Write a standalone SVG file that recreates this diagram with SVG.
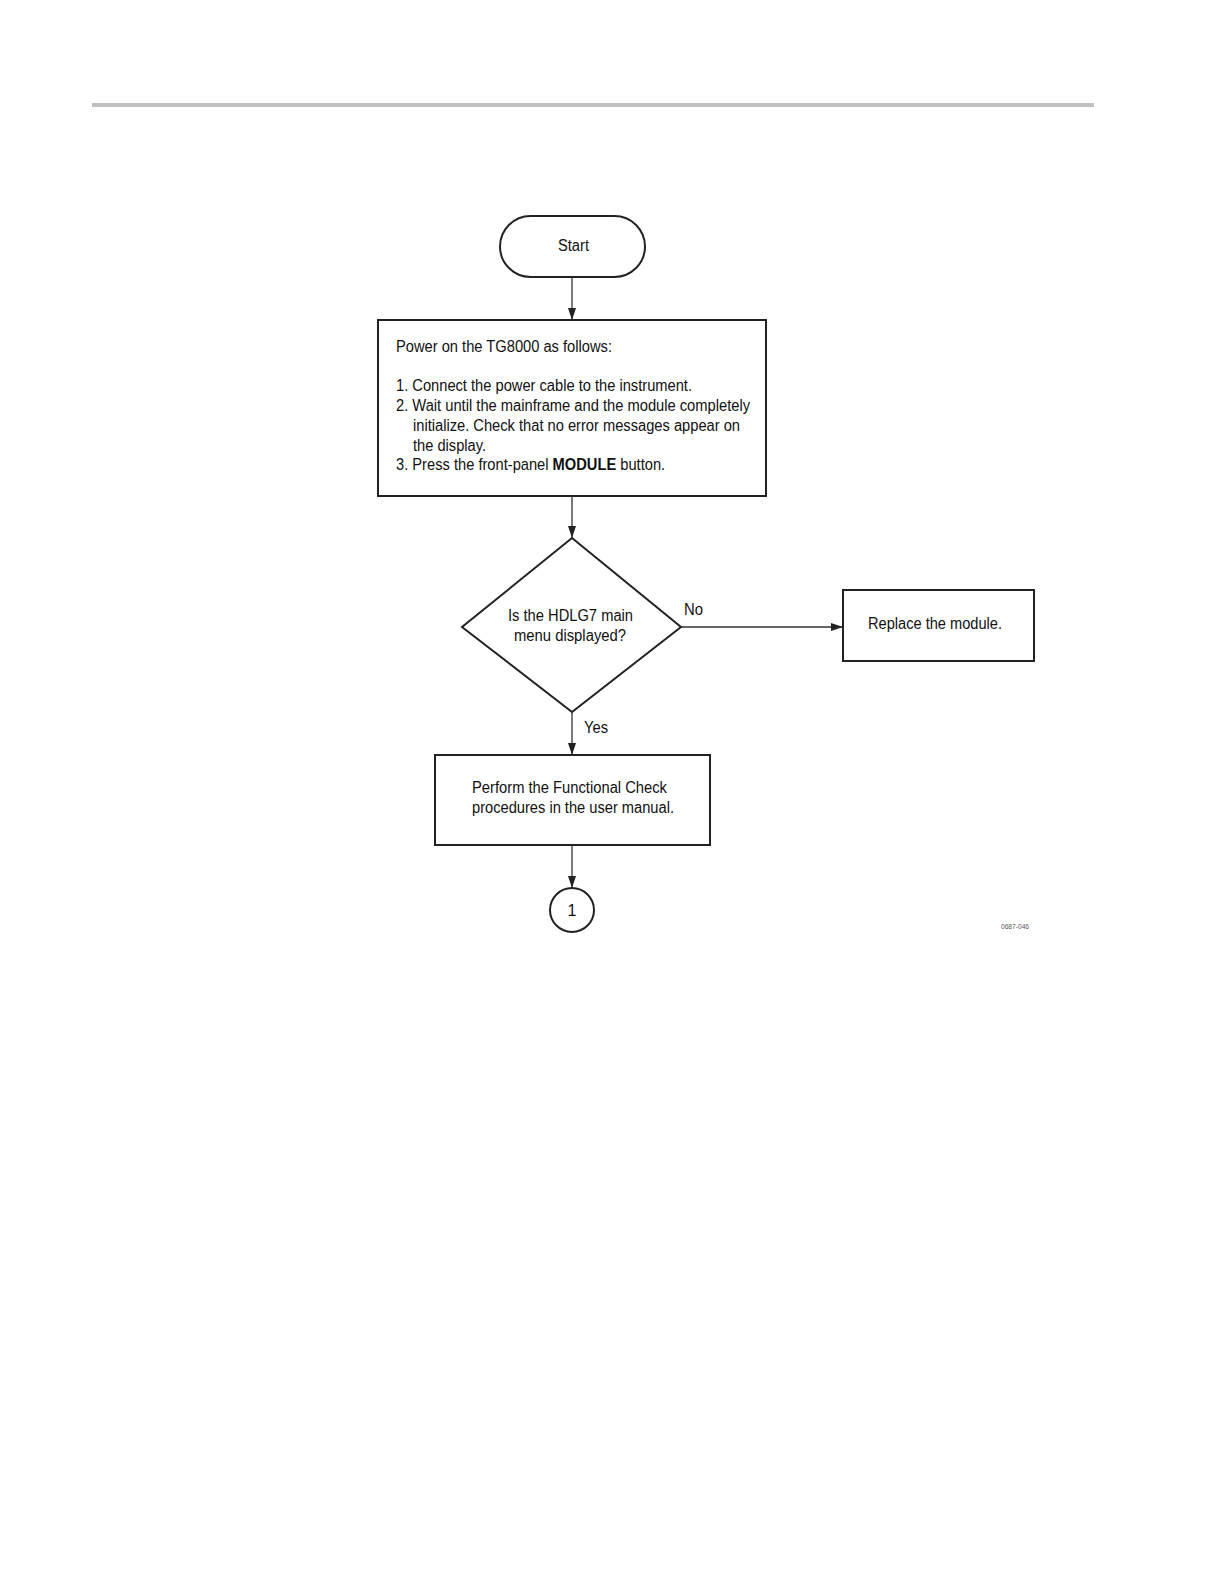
<svg xmlns="http://www.w3.org/2000/svg" width="1224" height="1584" viewBox="0 0 1224 1584">
<defs>
<style>
.s{fill:#fff;stroke:#222;stroke-width:2}
.t{font-family:"Liberation Sans",Arial,sans-serif;font-size:16px;fill:#111}
.c{stroke:#333;stroke-width:1.3;fill:none}
.b{font-weight:bold}
</style>
<marker id="ah" markerWidth="12" markerHeight="8" refX="12" refY="4" orient="auto" markerUnits="userSpaceOnUse">
<path d="M0,0 L12,4 L0,8 Z" fill="#222"/>
</marker>
</defs>
<rect width="1224" height="1584" fill="#fff"/>
<rect x="92" y="103" width="1002" height="4" fill="#c0c0c0"/>
<g id="connectors">
<line class="c" x1="572" y1="277" x2="572" y2="320" marker-end="url(#ah)"/>
<line class="c" x1="572" y1="496" x2="572" y2="538" marker-end="url(#ah)"/>
<line class="c" x1="681" y1="627" x2="843" y2="627" marker-end="url(#ah)"/>
<line class="c" x1="572" y1="712" x2="572" y2="755" marker-end="url(#ah)"/>
<line class="c" x1="572" y1="845" x2="572" y2="888" marker-end="url(#ah)"/>
<text class="t" x="684" y="615" textLength="19" lengthAdjust="spacingAndGlyphs">No</text>
<text class="t" x="584" y="733" textLength="24" lengthAdjust="spacingAndGlyphs">Yes</text>
</g>
<g id="start">
<rect class="s" x="500" y="216" width="145" height="61" rx="30.5"/>
<text class="t" x="558" y="251" textLength="31" lengthAdjust="spacingAndGlyphs">Start</text>
</g>
<g id="power">
<rect class="s" x="378" y="320" width="388" height="176"/>
<text class="t" x="396" y="352" textLength="216" lengthAdjust="spacingAndGlyphs">Power on the TG8000 as follows:</text>
<text class="t" x="396" y="391" textLength="296" lengthAdjust="spacingAndGlyphs">1. Connect the power cable to the instrument.</text>
<text class="t" x="396" y="411" textLength="354" lengthAdjust="spacingAndGlyphs">2. Wait until the mainframe and the module completely</text>
<text class="t" x="413" y="431" textLength="327" lengthAdjust="spacingAndGlyphs">initialize. Check that no error messages appear on</text>
<text class="t" x="413" y="451" textLength="73" lengthAdjust="spacingAndGlyphs">the display.</text>
<text class="t" transform="translate(396,470) scale(0.918,1)">3. Press the front-panel <tspan class="b">MODULE</tspan> button.</text>
</g>
<g id="decision">
<polygon class="s" points="572,538 681,627 572,712 462,627"/>
<text class="t" x="508" y="621" textLength="125" lengthAdjust="spacingAndGlyphs">Is the HDLG7 main</text>
<text class="t" x="514" y="641" textLength="112" lengthAdjust="spacingAndGlyphs">menu displayed?</text>
</g>
<g id="replace">
<rect class="s" x="843" y="590" width="191" height="71"/>
<text class="t" x="868" y="629" textLength="134" lengthAdjust="spacingAndGlyphs">Replace the module.</text>
</g>
<g id="perform">
<rect class="s" x="435" y="755" width="275" height="90"/>
<text class="t" x="472" y="793" textLength="195" lengthAdjust="spacingAndGlyphs">Perform the Functional Check</text>
<text class="t" x="472" y="813" textLength="202" lengthAdjust="spacingAndGlyphs">procedures in the user manual.</text>
</g>
<g id="connector1">
<circle class="s" cx="572" cy="910" r="22"/>
<text class="t" x="572" y="916" text-anchor="middle">1</text>
</g>
<text x="1001" y="929" font-family="Liberation Sans,Arial,sans-serif" font-size="8" fill="#555" textLength="28" lengthAdjust="spacingAndGlyphs">0687-046</text>
</svg>
